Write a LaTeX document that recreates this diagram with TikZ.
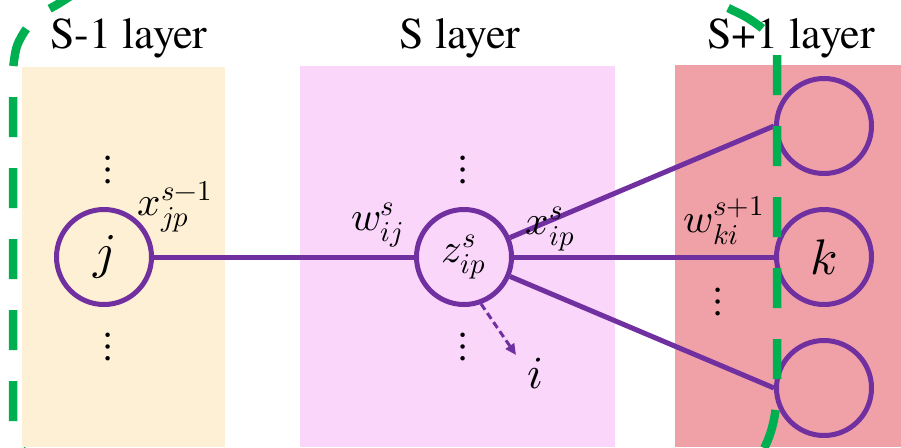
\documentclass[tikz,border=0pt]{standalone}
\usepackage{fontspec}
\usepackage{unicode-math}
\newfontfamily\serfont{texgyretermes-regular.otf}
\setmathfont{Latin Modern Math}
\usetikzlibrary{arrows.meta}
\definecolor{layA}{HTML}{FEF0D4}
\definecolor{layB}{HTML}{FAD6FA}
\definecolor{layC}{HTML}{F0A1A8}
\definecolor{nnpurple}{HTML}{7030A0}
\definecolor{nngreen}{HTML}{00B050}
\tikzset{
  title/.style={anchor=base, inner sep=0pt, font=\serfont\fontsize{44}{50}\selectfont},
  neuron/.style={circle, draw=nnpurple, line width=5pt, minimum size=95pt, inner sep=0pt, font=\fontsize{50}{56}\selectfont},
  conn/.style={draw=nnpurple, line width=5pt},
  lab/.style={inner sep=0pt, font=\fontsize{41}{47}\selectfont},
  dotsnode/.style={inner sep=0pt, font=\fontsize{42}{46}\selectfont},
  darr/.style={draw=nnpurple, line width=3pt, dash pattern=on 7pt off 4pt, -{Triangle[length=11pt,width=10pt]}},
  greend/.style={draw=nngreen, line width=8.5pt, dash pattern=on 40pt off 31pt}
}
\begin{document}
\begin{tikzpicture}[x=1pt,y=-1pt]
\useasboundingbox (0,0) rectangle (901,447);
\clip (0,0) rectangle (901,447);
\fill[white] (0,0) rectangle (901,447);
% layer panels
\fill[layA] (22,67) rectangle (225,447);
\fill[layB] (300,66) rectangle (615,447);
\fill[layC] (675,65) rectangle (901,447);
% titles
\node[title] (t1) at (129,48) {S-1 layer};
\node[title] (t2) at (460,48) {S layer};
\node[title] (t3) at (791,48) {S+1 layer};
% neurons
\node[neuron] (j) at (104,257) {$j$};
\node[neuron, font=\fontsize{41}{47}\selectfont] (z) at (464,257) {$z_{ip}^{s}$};
\node[neuron] (top) at (824,126) {};
\node[neuron] (k) at (824,257) {$k$};
\node[neuron] (bot) at (824,388) {};
% connectors
\draw[conn] (j) -- (z);
\draw[conn] (z) -- (top.west);
\draw[conn] (z) -- (k);
\draw[conn] (z) -- (bot.west);
% labels
\node[lab] (lx1) at (175,207) {$x_{jp}^{s-1}$};
\node[lab] (lw1) at (377,225) {$w_{ij}^{s}$};
\node[lab] (lx2) at (550,229) {$x_{ip}^{s}$};
\node[lab] (lw2) at (724,221) {$w_{ki}^{s+1}$};
% dots
\node[dotsnode] (d1) at (108,170) {$\vdots$};
\node[dotsnode] (d2) at (108,347) {$\vdots$};
\node[dotsnode] (d3) at (463,170) {$\vdots$};
\node[dotsnode] (d4) at (463,347) {$\vdots$};
\node[dotsnode] (d5) at (718,302) {$\vdots$};
% dashed arrow to i
\coordinate (iend) at (516,355);
\draw[darr] (z.-70) -- (iend);
\node[inner sep=0pt, font=\fontsize{46}{50}\selectfont] (il) at (535,374) {$i$};
% green dashed boundary
\draw[greend] (13,97) -- (13,425) .. controls (13,445) and (22,455) .. (45,462);
\draw[greend, dash phase=40pt] plot[smooth] coordinates {(13,97) (13,70) (17,46) (27,28) (41,14) (58,4) (80,-10)};
\draw[greend] (777,55) -- (777,385) .. controls (777,420) and (770,445) .. (750,470);
\draw[greend, dash phase=40pt] plot[smooth] coordinates {(777,55) (772,40) (763,29) (746,17) (728,8) (708,-2) (690,-12)};
\end{tikzpicture}
\end{document}
